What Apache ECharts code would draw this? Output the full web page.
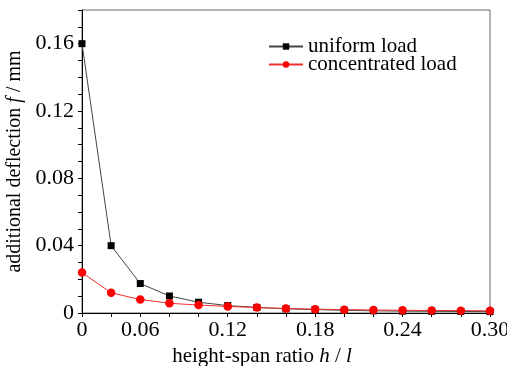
<!DOCTYPE html>
<html>
<head>
<meta charset="utf-8">
<script src="https://cdn.jsdelivr.net/npm/echarts@6/dist/echarts.min.js"></script>
<style>
html,body{margin:0;padding:0;background:#fff;}
#chart{width:507px;height:366px;}
</style>
</head>
<body>
<div id="chart"></div>
<script>
const xCategories = ['0','0.03','0.06','0.08','0.10','0.12','0.14','0.16','0.18','0.20','0.22','0.24','0.26','0.28','0.30'];
const xLabelIndices = [0, 2, 5, 8, 11, 14];
const uniformLoad = [0.16, 0.04, 0.0175, 0.0101, 0.0064, 0.0044, 0.0033, 0.0025, 0.002, 0.0016, 0.0013, 0.0011, 0.001, 0.0009, 0.0008];
const concentratedLoad = [0.024, 0.012, 0.008, 0.0058, 0.0047, 0.0039, 0.0032, 0.0027, 0.0023, 0.002, 0.0018, 0.0016, 0.0015, 0.0014, 0.0013];
const seriesNames = ['uniform load', 'concentrated load'];

const FONT = '"Liberation Serif", "DejaVu Serif", serif';
const chart = echarts.init(document.getElementById('chart'), null, {renderer: 'canvas'});
chart.setOption({
  animation: false,
  backgroundColor: '#fff',
  grid: {left: 82, right: 17, top: 10, bottom: 53, show: true, borderColor: '#666', borderWidth: 1,
    containLabel: false, outerBoundsMode: 'none'},
  legend: {
    left: 263, top: 31, orient: 'vertical', itemGap: -3, itemWidth: 34, itemHeight: 8,
    textStyle: {fontFamily: FONT, fontSize: 21, color: '#000', lineHeight: 19},
    data: seriesNames
  },
  xAxis: {
    type: 'category', data: xCategories, boundaryGap: false,
    name: 'height-span ratio {i|h} / {i|l}', nameLocation: 'middle', nameGap: 28,
    nameTextStyle: {fontFamily: FONT, fontSize: 21, color: '#000', padding: [0, 48, 0, 0],
      rich: {i: {fontFamily: FONT, fontSize: 21, fontStyle: 'italic', color: '#000'}}},
    axisLine: {lineStyle: {color: '#000', width: 1}},
    axisTick: {show: true, inside: false, length: 4, interval: 0, lineStyle: {color: '#000'}},
    axisLabel: {
      interval: (idx) => xLabelIndices.includes(idx),
      fontFamily: FONT, fontSize: 22, color: '#000', margin: 6
    },
    splitLine: {show: false}
  },
  yAxis: {
    type: 'value', min: 0, max: 0.18, interval: 0.04,
    name: 'additional deflection {i|f} / mm', nameLocation: 'middle', nameGap: 55, nameRotate: 90,
    nameTextStyle: {fontFamily: FONT, fontSize: 20, color: '#000',
      rich: {i: {fontFamily: FONT, fontSize: 20, fontStyle: 'italic', color: '#000'}}},
    axisLine: {show: true, lineStyle: {color: '#000', width: 1}},
    axisTick: {show: true, inside: false, length: 4, lineStyle: {color: '#000'}},
    minorTick: {show: true, splitNumber: 4, length: 4, lineStyle: {color: '#000'}},
    axisLabel: {fontFamily: FONT, fontSize: 22, color: '#000', margin: 8, showMaxLabel: false},
    splitLine: {show: false}
  },
  series: [
    {
      name: seriesNames[0], type: 'line', data: uniformLoad,
      symbol: 'rect', symbolSize: 7,
      itemStyle: {color: '#000'},
      lineStyle: {color: '#444', width: 1}
    },
    {
      name: seriesNames[1], type: 'line', data: concentratedLoad,
      symbol: 'circle', symbolSize: 8.5,
      itemStyle: {color: '#ff0000'},
      lineStyle: {color: '#f03030', width: 1}
    }
  ]
});
</script>
</body>
</html>
